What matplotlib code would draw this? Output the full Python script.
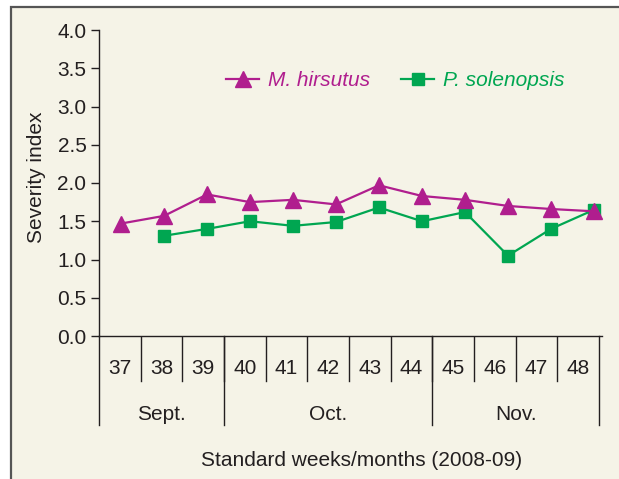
import matplotlib
matplotlib.use('Agg')
from matplotlib import pyplot as plt
from matplotlib.patches import Rectangle

# weeks / months (2008-09)
weeks = [37, 38, 39, 40, 41, 42, 43, 44, 45, 46, 47, 48]
months = ['Sept.', 'Oct.', 'Nov.']
month_weeks = [[37, 38, 39], [40, 41, 42, 43, 44], [45, 46, 47, 48]]

# severity index
hirsutus_weeks = [37, 38, 39, 40, 41, 42, 43, 44, 45, 46, 47, 48]
hirsutus = [1.47, 1.57, 1.85, 1.75, 1.78, 1.72, 1.97, 1.83, 1.78, 1.70, 1.66, 1.63]
solenopsis_weeks = [38, 39, 40, 41, 42, 43, 44, 45, 46, 47, 48]
solenopsis = [1.31, 1.40, 1.50, 1.44, 1.49, 1.68, 1.50, 1.62, 1.05, 1.40, 1.65]

yticks = [0.0, 0.5, 1.0, 1.5, 2.0, 2.5, 3.0, 3.5, 4.0]

plt.rcParams['font.family'] = ['Liberation Sans', 'DejaVu Sans']
ink = '#231f20'
magenta = '#b01e8e'
green = '#00a651'
W, H = 619, 479
fs = 15

fig = plt.figure(figsize=(W / 100, H / 100), dpi=100)
fig.patch.set_facecolor('white')
# cream panel with dark border on top/left
fig.patches.append(Rectangle((11 / W, -0.05), 1.1, (479 - 7) / H + 0.05,
                             transform=fig.transFigure, facecolor='#f5f3e7',
                             edgecolor='#555555', linewidth=1.6, zorder=-5))

ax = fig.add_axes([99 / W, (H - 336) / H, 503 / W, 306 / H])
ax.set_facecolor('none')
ax.plot(hirsutus_weeks, hirsutus, '-^', color=magenta, lw=1.6, ms=11,
        label='M. hirsutus', clip_on=False, zorder=3)
ax.plot(solenopsis_weeks, solenopsis, '-s', color=green, lw=1.6, ms=8,
        label='P. solenopsis', clip_on=False, zorder=2)
ax.set_xlim(37 - 22 / 43, 48 + 8 / 43)
ax.set_ylim(0, 4)
ax.set_yticks(yticks)
ax.set_yticklabels(['%.1f' % v for v in yticks])
ax.set_xticks([])
for s in ['top', 'right']:
    ax.spines[s].set_visible(False)
for s in ['left', 'bottom']:
    ax.spines[s].set_color(ink)
    ax.spines[s].set_linewidth(1.0)
ax.tick_params(axis='y', direction='out', length=6, width=1.0, color=ink,
               labelsize=fs, labelcolor=ink, pad=3)
fig.text(37 / W, (H - 177) / H, 'Severity index', rotation=90,
         ha='center', va='center', fontsize=fs, color=ink)

leg = ax.legend(loc='center left', bbox_to_anchor=((216 - 99) / 503, (336 - 81) / 306),
                ncol=2, frameon=False, borderpad=0, handlelength=1.55,
                handletextpad=0.45, columnspacing=1.5,
                prop={'style': 'italic', 'size': fs})
for txt, c in zip(leg.get_texts(), [magenta, green]):
    txt.set_color(c)

# category table below the axis
tab = fig.add_axes([99 / W, (H - 425) / H, 500 / W, 89 / H])
tab.set_xlim(36.5, 48.5)
tab.set_ylim(0, 1)
tab.axis('off')
week_bottom = (425 - 381) / 89
for w in weeks:
    tab.text(w, (425 - 368) / 89, str(w), ha='center', va='center',
             fontsize=fs, color=ink)
for i in range(len(weeks) - 1):
    tab.plot([weeks[i] + 0.5] * 2, [week_bottom, 1], color=ink, lw=1.0)
tab.plot([weeks[0] - 0.5] * 2, [0, 1], color=ink, lw=1.0, clip_on=False)
for name, mw in zip(months, month_weeks):
    tab.text((mw[0] + mw[-1]) / 2, (425 - 414) / 89, name, ha='center',
             va='center', fontsize=fs, color=ink)
    tab.plot([mw[-1] + 0.5] * 2, [0, 1], color=ink, lw=1.0, clip_on=False)

fig.text(362 / W, (H - 460) / H, 'Standard weeks/months (2008-09)',
         ha='center', va='center', fontsize=fs, color=ink)

fig.savefig('out.png', dpi=100)
